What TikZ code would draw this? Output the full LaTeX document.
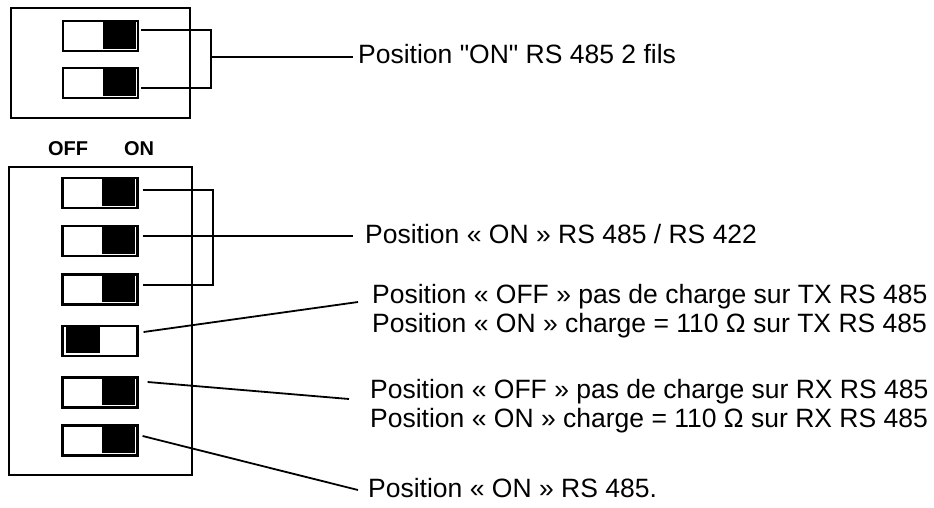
\documentclass[tikz,border=0pt]{standalone}
\usepackage{fontspec}
\setmainfont{Liberation Sans}
\usetikzlibrary{calc}
\tikzset{
  box/.style={draw,line width=2.4pt,inner sep=0pt},
  sw/.style={draw,line width=2.2pt,minimum width=75pt,minimum height=30pt,inner sep=0pt},
  swon/.style={sw,path picture={\fill ([xshift=2.2pt]path picture bounding box.north) rectangle ([xshift=-2.2pt,yshift=2.2pt]path picture bounding box.south east);}},
  swoff/.style={sw,path picture={\fill ([xshift=3pt]path picture bounding box.north west) rectangle ([yshift=3pt]path picture bounding box.south);}},
  lbl/.style={anchor=base west,inner sep=0pt,font=\fontsize{26.5}{30}\selectfont},
  hd/.style={anchor=base,inner sep=0pt,font=\fontsize{20}{23}\selectfont\bfseries},
  ln/.style={line width=1.8pt},
}
\begin{document}
\begin{tikzpicture}[x=1pt,y=-1pt]
\useasboundingbox (0,0) rectangle (934,507);
% upper block, 2 switches
\node[box,minimum width=178.6pt,minimum height=109.6pt] (bx1) at (100.5,63){};
\node[swon] (t1) at (100.5,36){}; \node[swon] (t2) at (100.5,83){};
% lower block, 6 switches
\node[hd] (off) at (68,155){OFF}; \node[hd] (on) at (139,155){ON};
\node[box,minimum width=182.6pt,minimum height=307.6pt] (bx2) at (100.5,321){};
\node[swon] (b1) at (100,193){}; \node[swon] (b2) at (100,241){};
\node[swon] (b3) at (100,289.5){}; \node[swoff] (b4) at (100,341){};
\node[swon] (b5) at (100,392.5){}; \node[swon] (b6) at (100,440.5){};
% labels
\node[lbl] (lab1) at (358,63){Position \textquotedbl ON\textquotedbl{} RS 485 2 fils};
\node[lbl] (lab2) at (365,243){Position « ON » RS 485 / RS 422};
\node[lbl] (lab3a) at (372,303){Position « OFF » pas de charge sur TX RS 485};
\node[lbl] (lab3b) at (372,332){Position « ON » charge = 110 Ω sur TX RS 485};
\node[lbl] (lab4a) at (370,398){Position « OFF » pas de charge sur RX RS 485};
\node[lbl] (lab4b) at (370,427){Position « ON » charge = 110 Ω sur RX RS 485};
\node[lbl] (lab5) at (368,497){Position « ON » RS 485.};
\coordinate (k1) at (211,57); \coordinate (k2) at (213,236);
\coordinate (e1) at (353,57); \coordinate (e2) at (353,236); \coordinate (e3) at (358,302);
\coordinate (e4) at (349,399); \coordinate (e5) at (358,490);
% connectors
\draw[ln] ([xshift=2pt,yshift=6pt]t1.east) -| (k1) |- ([xshift=2pt,yshift=-5pt]t2.east);
\draw[ln] (k1) -- (e1);
\draw[ln] ([xshift=4pt,yshift=3pt]b1.east) -| (k2) |- ([xshift=4pt,yshift=4.5pt]b3.east);
\draw[ln] ([xshift=4pt,yshift=5pt]b2.east) -- (e2);
\draw[ln] ([xshift=5pt,yshift=9pt]b4.east) -- (e3);
\draw[ln] ([xshift=9pt,yshift=10.5pt]b5.east) -- (e4);
\draw[ln] ([xshift=4pt,yshift=4.5pt]b6.east) -- (e5);
\end{tikzpicture}
\end{document}
